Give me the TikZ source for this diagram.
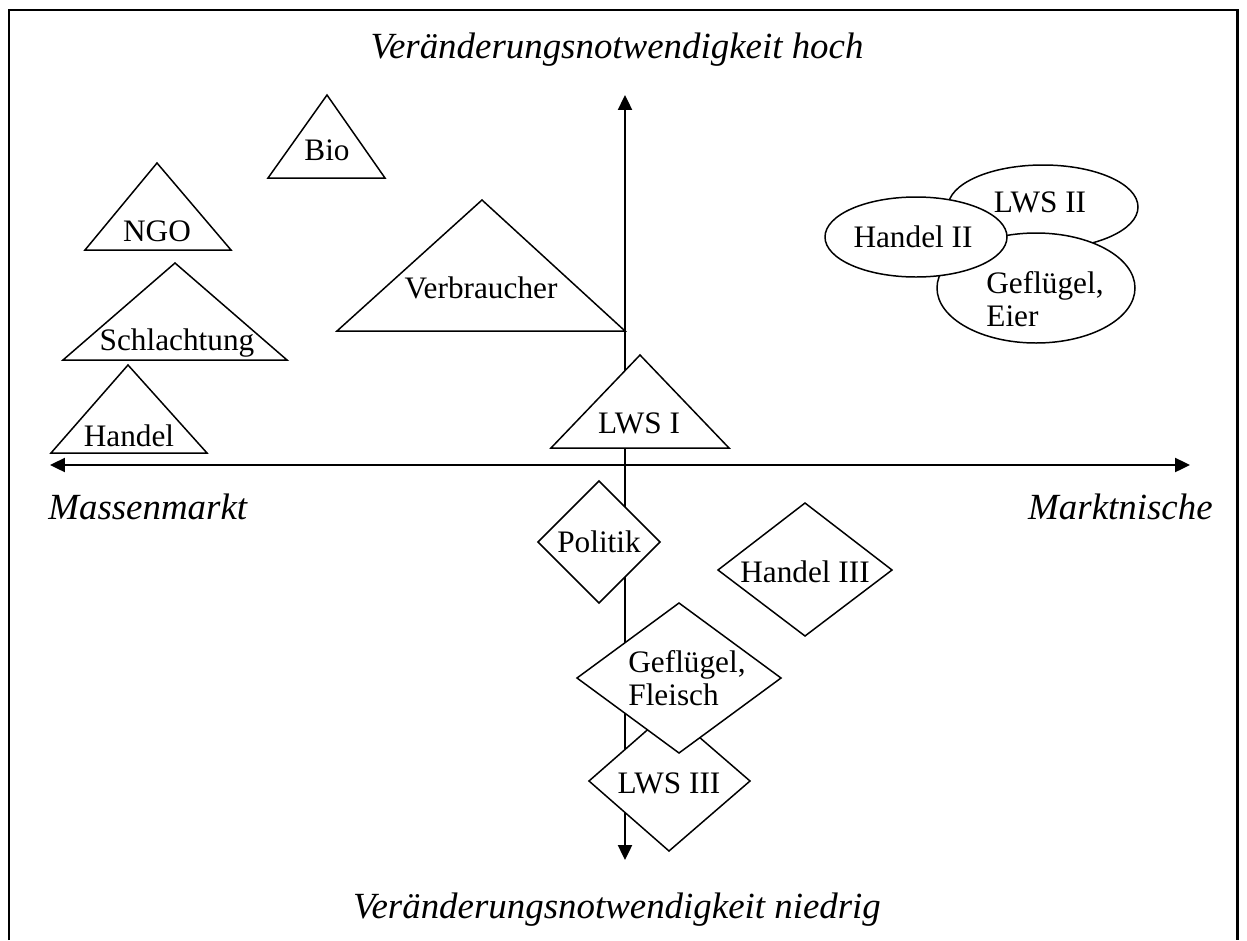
\documentclass[tikz,border=0pt]{standalone}
\usepackage{fontspec}
\setmainfont{Liberation Serif}
\usetikzlibrary{arrows.meta}

\begin{document}
\begin{tikzpicture}[x=0.02cm, y=-0.02cm,
    frame/.style = {line width=1.7pt},
    axis/.style  = {line width=1.1pt, {Triangle[length=8.5pt,width=8pt]}-{Triangle[length=8.5pt,width=8pt]}},
    form/.style  = {draw, fill=white, line width=0.85pt, line join=miter},
    lbl/.style   = {inner sep=0pt, font=\fontsize{17.8}{19}\selectfont},
    pole/.style  = {inner sep=0pt, font=\fontsize{21}{24}\selectfont\itshape},
  ]
  \useasboundingbox (0,0) rectangle (1247,940);
  % frame, open at the bottom
  \draw[frame] (9,940) -- (9,10) -- (1237,10) -- (1237,940);

  % axes
  \coordinate (west)  at (50,465);
  \coordinate (east)  at (1190,465);
  \coordinate (north) at (625,95);
  \coordinate (south) at (625,860);
  \draw[axis] (west) -- (east);
  \draw[axis] (south) -- (north);

  \node[pole] (hoch)    at (617,50)  {Veränderungsnotwendigkeit hoch};
  \node[pole] (niedrig) at (617,910) {Veränderungsnotwendigkeit niedrig};
  \node[pole, anchor=west] (masse) at (48,507)   {Massenmarkt};
  \node[pole, anchor=east] (nische) at (1213,507) {Marktnische};

  % triangles
  \draw[form] (327,95)  -- (385,178) -- (268,178) -- cycle;
  \draw[form] (157,163) -- (231,250) -- (85,250)  -- cycle;
  \draw[form] (175,263) -- (287,360) -- (63,360)  -- cycle;
  \draw[form] (128,365) -- (207,453) -- (51,453)  -- cycle;
  \draw[form] (482,200) -- (625,331) -- (337,331) -- cycle;
  \draw[form] (640,355) -- (729,448) -- (551,448) -- cycle;
  \node[lbl] (bio)     at (327,150) {Bio};
  \node[lbl] (ngo)     at (157,231) {NGO};
  \node[lbl] (schlacht) at (177,343) {Schlachtung};
  \node[lbl] (handel)  at (129,436) {Handel};
  \node[lbl] (verbr)   at (481,288) {Verbraucher};
  \node[lbl] (lwsi)    at (639,423) {LWS I};

  % diamonds
  \draw[form] (599,481) -- (660,542) -- (599,603) -- (538,542) -- cycle;
  \draw[form] (805,503) -- (892,570) -- (805,636) -- (718,570) -- cycle;
  \draw[form] (669,711) -- (750,781) -- (669,851) -- (589,781) -- cycle;
  \draw[form] (679,603) -- (781,678) -- (679,753) -- (577,678) -- cycle;
  \node[lbl] (politik)  at (599,542) {Politik};
  \node[lbl] (handeliii) at (805,572) {Handel III};
  \node[lbl] (lwsiii)   at (669,783) {LWS III};
  \node[lbl, align=left] (fleisch) at (687,678) {Geflügel,\\Fleisch};

  % ellipses
  \draw[form] (1043,207) ellipse [x radius=95, y radius=42];
  \draw[form] (1036,288) ellipse [x radius=99, y radius=55];
  \draw[form] (916,237)  ellipse [x radius=91, y radius=40];
  \node[lbl] (lwsii)   at (1040,202) {LWS II};
  \node[lbl] (handelii) at (913,237) {Handel II};
  \node[lbl, align=left] (eier) at (1045,299) {Geflügel,\\Eier};
\end{tikzpicture}
\end{document}
